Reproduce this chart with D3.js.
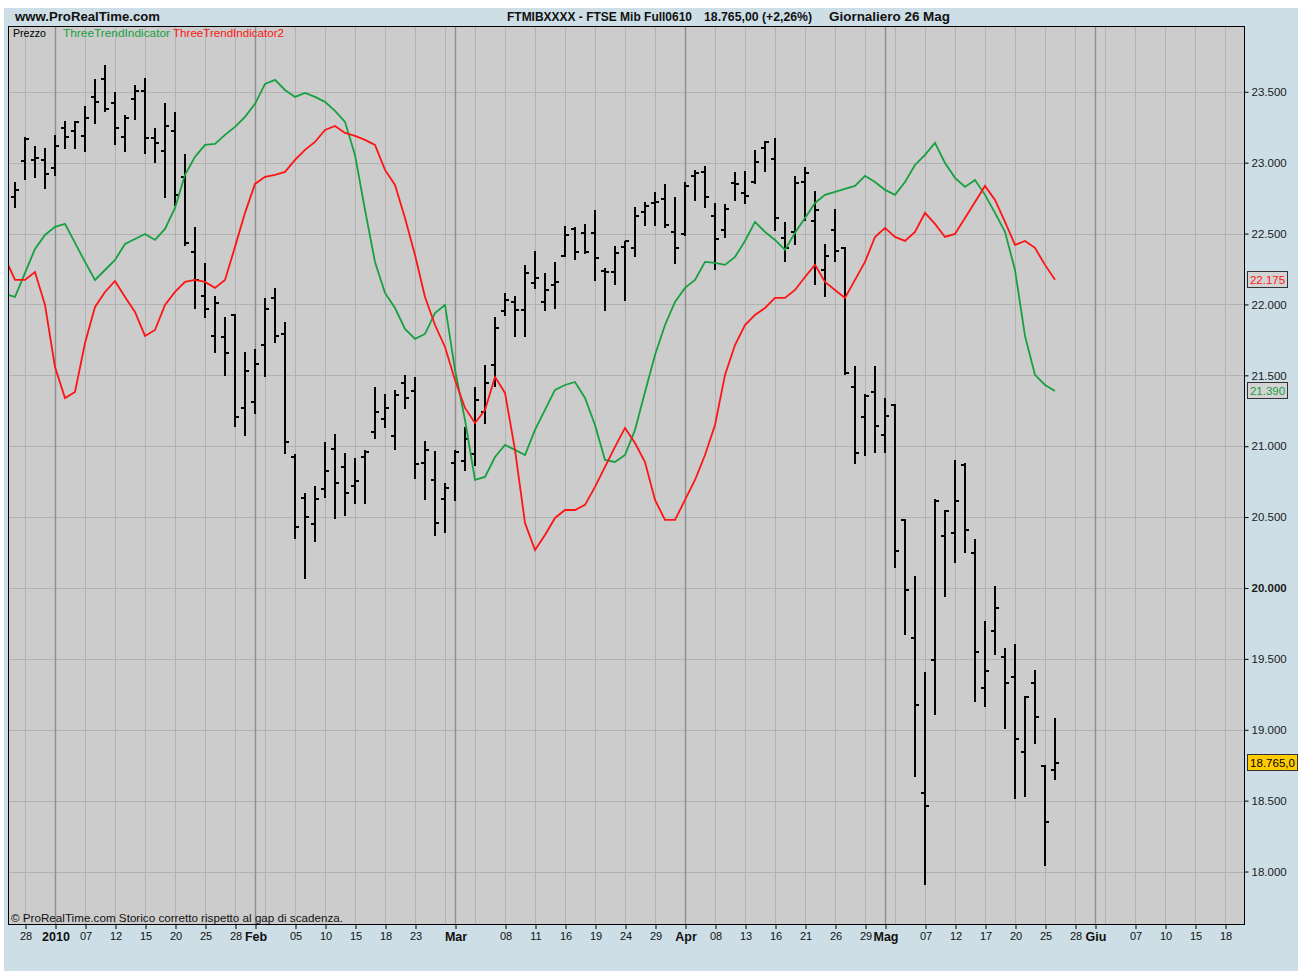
<!DOCTYPE html>
<html>
<head>
<meta charset="utf-8">
<script src="https://cdn.jsdelivr.net/npm/d3@7"></script>
<style>
body { margin: 0; background: #ffffff; }
svg { display: block; font-family: "Liberation Sans", Arial, sans-serif; }
</style>
</head>
<body>
<svg id="grafico"></svg>
<script>
// giorni di borsa (anche quelli futuri senza dati, per lo spazio a destra)
let giorni = [
	"2009-12-22","2009-12-23","2009-12-28","2009-12-29","2009-12-30",
	"2010-01-04","2010-01-05","2010-01-06","2010-01-07","2010-01-08","2010-01-11","2010-01-12","2010-01-13","2010-01-14","2010-01-15",
	"2010-01-18","2010-01-19","2010-01-20","2010-01-21","2010-01-22","2010-01-25","2010-01-26","2010-01-27","2010-01-28","2010-01-29",
	"2010-02-01","2010-02-02","2010-02-03","2010-02-04","2010-02-05","2010-02-08","2010-02-09","2010-02-10","2010-02-11","2010-02-12",
	"2010-02-15","2010-02-16","2010-02-17","2010-02-18","2010-02-19","2010-02-22","2010-02-23","2010-02-24","2010-02-25","2010-02-26",
	"2010-03-01","2010-03-02","2010-03-03","2010-03-04","2010-03-05","2010-03-08","2010-03-09","2010-03-10","2010-03-11","2010-03-12",
	"2010-03-15","2010-03-16","2010-03-17","2010-03-18","2010-03-19","2010-03-22","2010-03-23","2010-03-24","2010-03-25","2010-03-26",
	"2010-03-29","2010-03-30","2010-03-31",
	"2010-04-01","2010-04-06","2010-04-07","2010-04-08","2010-04-09","2010-04-12","2010-04-13","2010-04-14","2010-04-15","2010-04-16",
	"2010-04-19","2010-04-20","2010-04-21","2010-04-22","2010-04-23","2010-04-26","2010-04-27","2010-04-28","2010-04-29","2010-04-30",
	"2010-05-03","2010-05-04","2010-05-05","2010-05-06","2010-05-07","2010-05-10","2010-05-11","2010-05-12","2010-05-13","2010-05-14",
	"2010-05-17","2010-05-18","2010-05-19","2010-05-20","2010-05-21","2010-05-24","2010-05-25","2010-05-26","2010-05-27","2010-05-28",
	"2010-05-31",
	"2010-06-01","2010-06-02","2010-06-03","2010-06-04","2010-06-07","2010-06-08","2010-06-09","2010-06-10","2010-06-11",
	"2010-06-14","2010-06-15","2010-06-16","2010-06-17","2010-06-18","2010-06-21","2010-06-22"
];

// prezzi OHLC (il primo giorno e' fuori dal grafico)
let apertura = [null,
	22758,23012,23020,23020,22963,23245,23224,23189,23464,23591,23422,23182,23450,23506,23175,23083,23224,22900,22370,22060,
	21778,21771,21926,21270,21312,21714,22046,21792,20924,20635,20452,20698,20981,20854,20720,20924,21100,21192,21072,21446,
	21390,20882,20762,20628,20882,20896,20945,21242,21573,21954,22018,21961,22152,22018,22138,22342,22533,22505,22505,22236,
	22229,22406,22399,22653,22716,22744,22512,22497,22907,22935,22624,22526,22857,22787,22864,23104,23027,22469,22512,22864,
	22589,22243,22526,22399,21418,21206,21383,21079,21291,20480,19647,18554,19492,20367,20388,20868,20247,19295,19697,19513,
	19372,18843,19330,18744,18716];
let massimo = [null,
	22857,23175,23111,23097,23189,23288,23288,23393,23584,23683,23492,23330,23542,23591,23238,23415,23351,23055,22540,22286,
	22053,21905,21926,21658,21679,22039,22109,21870,20938,20663,20713,21023,21079,20945,20910,20967,21411,21362,21390,21496,
	21482,21030,20959,20734,20967,21129,21411,21566,21905,22074,22053,22272,22370,22215,22293,22547,22540,22561,22660,22250,
	22406,22441,22681,22716,22787,22843,22751,22857,22942,22970,22709,22702,22928,22935,23083,23146,23168,22575,22900,22963,
	22794,22420,22667,22399,21559,21362,21559,21333,21291,20480,20078,19400,20621,20543,20896,20875,20339,19760,20007,19570,
	19598,19231,19414,18744,19076];
let minimo = [null,
	22688,22885,22900,22822,22914,23104,23104,23083,23281,23365,23132,23083,23309,23069,23005,22758,22702,22420,21975,21912,
	21665,21503,21143,21079,21235,21496,21735,20952,20353,20071,20332,20642,20494,20515,20600,20600,21058,21136,20981,21270,
	20776,20628,20374,20395,20621,20832,20868,21164,21425,21926,21778,21778,22117,21961,21975,22342,22321,22363,22173,21961,
	22145,22032,22342,22561,22561,22547,22293,22490,22737,22688,22250,22476,22737,22716,22857,22942,22526,22307,22427,22596,
	22145,22060,22307,21510,20882,20938,20959,20959,20148,19675,18674,17912,19111,19944,20183,20254,19203,19168,19534,19012,
	18518,18533,18906,18046,18653];
let chiusura = [null,
	22808,23168,23030,22921,23118,23182,23288,23316,23429,23379,23245,23316,23506,23175,23139,23259,22773,22434,22173,21968,
	22011,21658,21206,21531,21580,21968,21778,21030,20430,20501,20628,20825,20741,20670,20755,20959,21242,21270,21362,21340,
	20875,20974,20459,20706,20959,21051,21326,21446,21834,22032,21961,22222,22187,22102,22159,22490,22370,22370,22328,22229,
	22363,22448,22624,22695,22723,22561,22399,22836,22928,22758,22462,22674,22850,22766,23005,23146,22610,22399,22857,22928,
	22667,22342,22377,21517,20952,21355,21143,21213,20261,19986,19175,18462,20614,20543,20614,20409,19548,19414,19859,19330,
	18935,19231,19090,18350,18765];

// indicatori
let verde = [
	22074,22053,22222,22392,22490,22547,22568,22434,22300,22173,
	22243,22314,22427,22462,22497,22455,22533,22681,22914,23041,
	23125,23132,23196,23252,23323,23415,23556,23584,23513,23464,
	23492,23464,23429,23365,23288,23055,22667,22300,22081,21975,
	21827,21757,21792,21940,21997,21538,21185,20762,20783,20924,
	21009,20974,20938,21115,21256,21397,21432,21453,21340,21150,
	20903,20889,20938,21115,21383,21644,21855,22018,22117,22173,
	22300,22293,22279,22335,22448,22582,22512,22455,22385,22505,
	22610,22716,22773,22794,22815,22836,22907,22864,22808,22773,
	22864,22984,23055,23139,22998,22893,22829,22878,22773,22646,
	22512,22243,21778,21503,21432,21390];
let rosso = [
	22328,22173,22173,22229,21997,21559,21340,21383,21728,21982,
	22088,22166,22053,21947,21778,21820,21997,22088,22159,22173,
	22159,22117,22173,22406,22646,22850,22900,22914,22935,23020,
	23090,23146,23231,23259,23210,23189,23161,23125,22949,22843,
	22610,22349,22053,21855,21700,21467,21270,21164,21256,21489,
	21376,20974,20459,20268,20374,20494,20550,20550,20586,20713,
	20854,20995,21129,21023,20889,20621,20480,20480,20621,20762,
	20938,21150,21503,21714,21855,21926,21975,22046,22046,22102,
	22194,22279,22159,22102,22046,22173,22300,22476,22540,22476,
	22448,22512,22646,22568,22476,22497,22610,22723,22836,22737,
	22582,22420,22448,22399,22279,22175];

// asse y
let livelli = [18000,18500,19000,19500,20000,20500,21000,21500,22000,22500,23000,23500];

// asse x: etichette dei giorni, dei mesi, e linee senza etichetta
let tickGiorni = [
	["2009-12-28","28"],["2010-01-07","07"],["2010-01-12","12"],["2010-01-15","15"],["2010-01-20","20"],["2010-01-25","25"],["2010-01-28","28"],
	["2010-02-05","05"],["2010-02-10","10"],["2010-02-15","15"],["2010-02-18","18"],["2010-02-23","23"],
	["2010-03-08","08"],["2010-03-11","11"],["2010-03-16","16"],["2010-03-19","19"],["2010-03-24","24"],["2010-03-29","29"],
	["2010-04-08","08"],["2010-04-13","13"],["2010-04-16","16"],["2010-04-21","21"],["2010-04-26","26"],["2010-04-29","29"],
	["2010-05-07","07"],["2010-05-12","12"],["2010-05-17","17"],["2010-05-20","20"],["2010-05-25","25"],["2010-05-28","28"],
	["2010-06-07","07"],["2010-06-10","10"],["2010-06-15","15"],["2010-06-18","18"]
];
let tickMesi = [["2010-01-04","2010"],["2010-02-01","Feb"],["2010-03-01","Mar"],["2010-04-01","Apr"],["2010-05-03","Mag"],["2010-06-01","Giu"]];
let grigliaSenzaEtichetta = ["2010-02-02","2010-02-26","2010-03-03","2010-05-04","2010-06-02"];

let nomi = ["Prezzo", "ThreeTrendIndicator", "ThreeTrendIndicator2"];

// ---------------------------------------------------------------

let W = 1306, H = 971;
let sx = 8, dx = 1244, alto = 26, basso = 924;
let colVerde = '#17a03f', colRosso = '#ff1414';

let it = d3.formatLocale({decimal: ",", thousands: ".", grouping: [3], currency: ["", "€"]});
let fmt0 = it.format(",.0f");

let svg = d3.select('#grafico').attr('width', W).attr('height', H);

// sfondo azzurro
svg.append('rect').attr('x', 4).attr('y', 8).attr('width', 1294).attr('height', H - 8).attr('fill', '#cddee6');

// area del grafico
svg.append('rect').attr('x', sx).attr('y', alto).attr('width', dx - sx).attr('height', basso - alto).attr('fill', '#cccccc');
svg.append('clipPath').attr('id', 'clip')
	.append('rect').attr('x', sx).attr('y', alto).attr('width', dx - sx).attr('height', basso - alto);

let x = d3.scalePoint().domain(giorni).range([5, 1245]);
let y = d3.scaleLinear().domain([17630, 23964]).range([basso, alto]);

// griglia
let griglia = svg.append('g').attr('clip-path', 'url(#clip)');
griglia.selectAll('.oriz').data(livelli).enter().append('line')
	.attr('x1', sx).attr('x2', dx)
	.attr('y1', d => Math.round(y(d)) + 0.5).attr('y2', d => Math.round(y(d)) + 0.5)
	.attr('stroke', '#b2b2b2');
let verticali = tickGiorni.map(d => d[0]).concat(grigliaSenzaEtichetta);
griglia.selectAll('.vert').data(verticali).enter().append('line')
	.attr('x1', d => x(d) + 0.5).attr('x2', d => x(d) + 0.5)
	.attr('y1', alto).attr('y2', basso)
	.attr('stroke', '#b2b2b2');
griglia.selectAll('.mese').data(tickMesi).enter().append('line')
	.attr('x1', d => x(d[0]) + 0.5).attr('x2', d => x(d[0]) + 0.5)
	.attr('y1', alto).attr('y2', basso)
	.attr('stroke', '#8e8e8e').attr('stroke-width', 1.4);

// barre OHLC
let ohlc = giorni.map((g, i) => ({g: g, o: apertura[i], h: massimo[i], l: minimo[i], c: chiusura[i]}))
	.filter(d => d.o != null);
let barre = svg.append('g').attr('clip-path', 'url(#clip)').attr('stroke', '#000').attr('stroke-width', 2);
let b = barre.selectAll('g').data(ohlc).enter().append('g');
b.append('line')
	.attr('x1', d => x(d.g)).attr('x2', d => x(d.g))
	.attr('y1', d => Math.round(y(d.h)) - 1).attr('y2', d => Math.round(y(d.l)) + 1);
b.append('line')
	.attr('x1', d => x(d.g) - 4).attr('x2', d => x(d.g))
	.attr('y1', d => Math.round(y(d.o))).attr('y2', d => Math.round(y(d.o)));
b.append('line')
	.attr('x1', d => x(d.g)).attr('x2', d => x(d.g) + 4)
	.attr('y1', d => Math.round(y(d.c))).attr('y2', d => Math.round(y(d.c)));

// linee indicatori
let linea = d3.line()
	.x((d, i) => x(giorni[i]))
	.y(d => y(d));
let linee = svg.append('g').attr('clip-path', 'url(#clip)');
linee.append('path').datum(verde).attr('d', linea)
	.attr('fill', 'none').attr('stroke', colVerde).attr('stroke-width', 1.8);
linee.append('path').datum(rosso).attr('d', linea)
	.attr('fill', 'none').attr('stroke', colRosso).attr('stroke-width', 1.8);

// bordo
svg.append('rect').attr('x', sx + 0.5).attr('y', alto + 0.5).attr('width', dx - sx).attr('height', basso - alto)
	.attr('fill', 'none').attr('stroke', '#000');

// asse y a destra
let yAxis = d3.axisRight(y).tickValues(livelli).tickFormat(fmt0).tickSize(4).tickPadding(3);
let gy = svg.append('g').attr('transform', 'translate(' + (dx + 0.5) + ',0)').call(yAxis);
gy.select('.domain').remove();
gy.selectAll('text').attr('font-family', '"Liberation Sans", Arial, sans-serif').attr('font-size', 11.5).attr('fill', '#1a1a1a')
	.attr('font-weight', d => d == 20000 ? 'bold' : 'normal');

// asse x
let etichette = new Map(tickGiorni.concat(tickMesi));
let mesi = new Set(tickMesi.map(d => d[0]));
let xAxis = d3.axisBottom(x).tickValues(tickGiorni.concat(tickMesi).map(d => d[0]))
	.tickFormat(d => etichette.get(d)).tickSize(5).tickPadding(3);
let gx = svg.append('g').attr('transform', 'translate(0.5,' + basso + ')').call(xAxis);
gx.select('.domain').remove();
gx.selectAll('text').attr('font-family', '"Liberation Sans", Arial, sans-serif')
	.attr('font-size', d => mesi.has(d) ? 12.5 : 11)
	.attr('font-weight', d => mesi.has(d) ? 'bold' : 'normal')
	.attr('fill', '#111');

// riquadri con l'ultimo valore
let ultimo = 105;
function riquadro(v, testo, colTesto, sfondo, larg) {
	let yy = Math.round(y(v));
	svg.append('rect').attr('x', 1247.5).attr('y', yy - 8.5).attr('width', larg).attr('height', 16)
		.attr('fill', sfondo).attr('stroke', '#333');
	svg.append('text').attr('x', 1247.5 + larg / 2).attr('y', yy + 4).attr('text-anchor', 'middle')
		.attr('font-size', 11.5).attr('fill', colTesto).text(testo);
}
riquadro(rosso[ultimo], fmt0(rosso[ultimo]), colRosso, '#d4d4d4', 40);
riquadro(verde[ultimo], fmt0(verde[ultimo]), colVerde, '#d4d4d4', 40);
riquadro(chiusura[ultimo], it.format(",.1f")(chiusura[ultimo]), '#000', '#ffcc00', 50);

// legenda
svg.append('text').attr('x', 13).attr('y', 36.5).attr('font-size', 10.5).attr('fill', '#000')
	.attr('textLength', 33).attr('lengthAdjust', 'spacingAndGlyphs').text(nomi[0]);
svg.append('text').attr('x', 63).attr('y', 36.5).attr('font-size', 10.5).attr('fill', colVerde)
	.attr('textLength', 107).attr('lengthAdjust', 'spacingAndGlyphs').text(nomi[1]);
svg.append('text').attr('x', 173).attr('y', 36.5).attr('font-size', 10.5).attr('fill', colRosso)
	.attr('textLength', 111).attr('lengthAdjust', 'spacingAndGlyphs').text(nomi[2]);

// intestazione
let variazione = (chiusura[ultimo] / chiusura[ultimo - 1] - 1) * 100;
svg.append('text').attr('x', 15).attr('y', 20.5).attr('font-size', 12).attr('font-weight', 'bold').attr('fill', '#111')
	.attr('textLength', 145).attr('lengthAdjust', 'spacingAndGlyphs').text('www.ProRealTime.com');
svg.append('text').attr('x', 507).attr('y', 20.5).attr('font-size', 12).attr('font-weight', 'bold').attr('fill', '#111')
	.attr('textLength', 185).attr('lengthAdjust', 'spacingAndGlyphs').text('FTMIBXXXX - FTSE Mib Full0610');
svg.append('text').attr('x', 704).attr('y', 20.5).attr('font-size', 12).attr('font-weight', 'bold').attr('fill', '#111')
	.attr('textLength', 108).attr('lengthAdjust', 'spacingAndGlyphs')
	.text(it.format(",.2f")(chiusura[ultimo]) + ' (+' + it.format(".2f")(variazione) + '%)');
svg.append('text').attr('x', 829).attr('y', 20.5).attr('font-size', 12).attr('font-weight', 'bold').attr('fill', '#111')
	.attr('textLength', 121).attr('lengthAdjust', 'spacingAndGlyphs').text('Giornaliero  26 Mag');

// nota in basso
svg.append('text').attr('x', 11).attr('y', 922).attr('font-size', 10.5).attr('fill', '#111')
	.attr('textLength', 332).attr('lengthAdjust', 'spacingAndGlyphs')
	.text('© ProRealTime.com  Storico corretto rispetto al gap di scadenza.');
</script>
</body>
</html>
